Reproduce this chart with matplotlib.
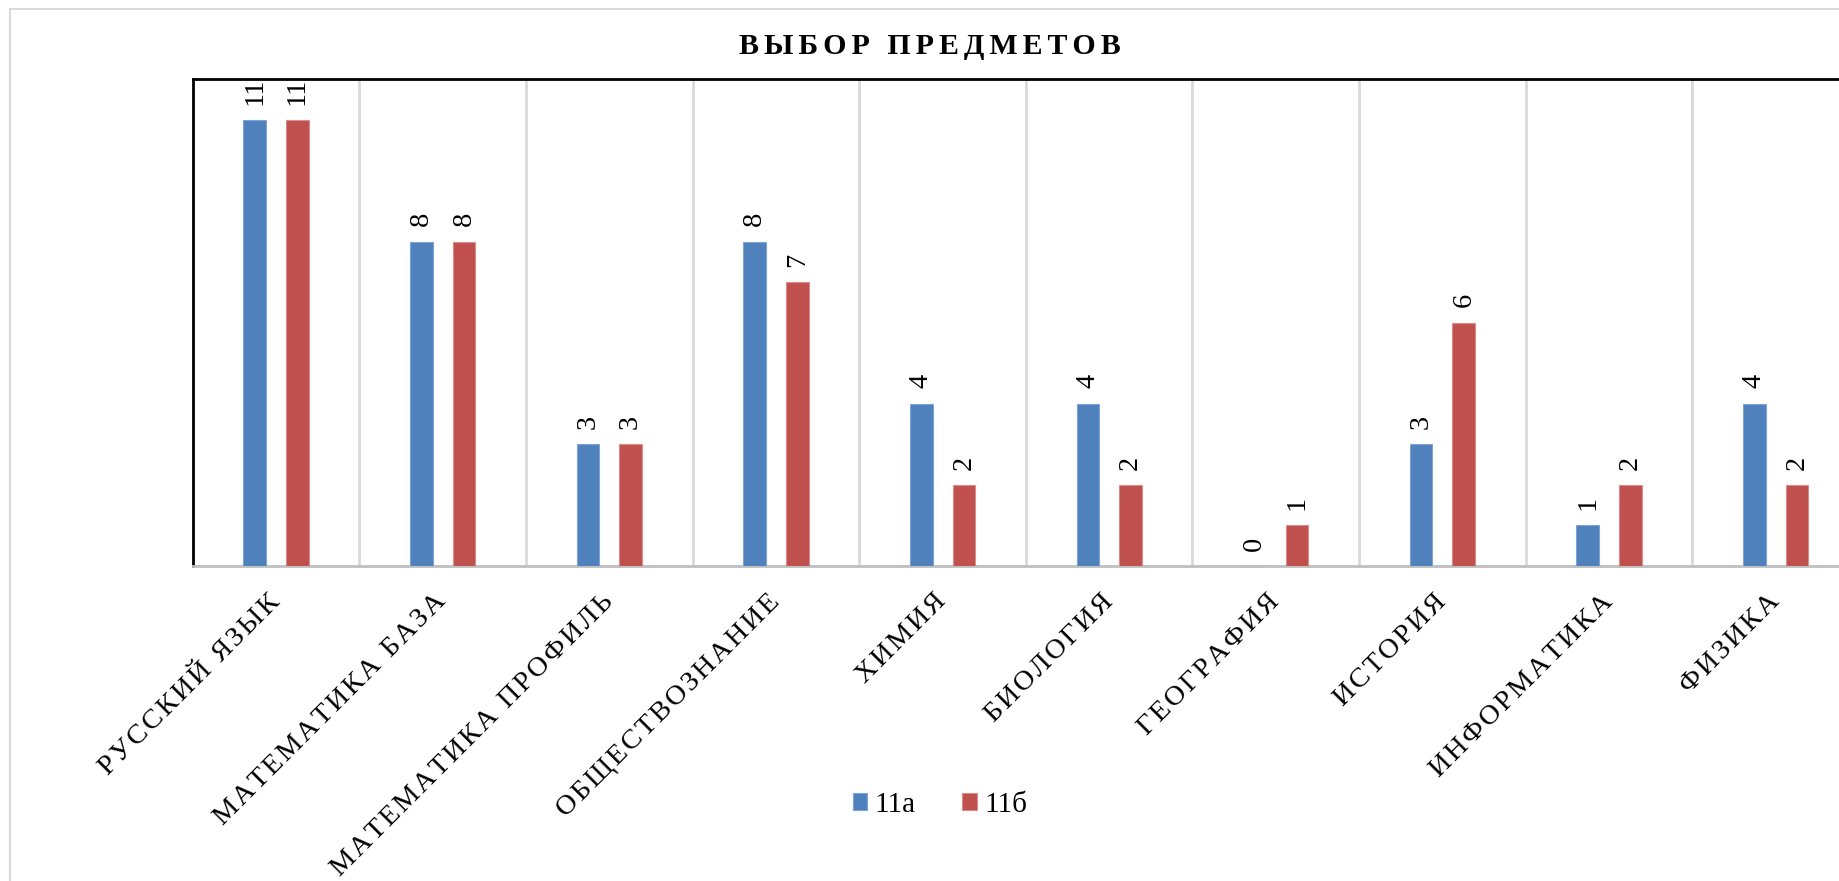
import numpy as np
import matplotlib.pyplot as plt
from matplotlib.patches import Rectangle

plt.rcParams['font.family'] = ['Liberation Serif', 'DejaVu Serif']

# data
subjects = ['РУССКИЙ ЯЗЫК', 'МАТЕМАТИКА БАЗА', 'МАТЕМАТИКА ПРОФИЛЬ',
            'ОБЩЕСТВОЗНАНИЕ', 'ХИМИЯ', 'БИОЛОГИЯ', 'ГЕОГРАФИЯ',
            'ИСТОРИЯ', 'ИНФОРМАТИКА', 'ФИЗИКА']
class_a = [11, 8, 3, 8, 4, 4, 0, 3, 1, 4]
class_b = [11, 8, 3, 7, 2, 2, 1, 6, 2, 2]
series_names = ['11а', '11б']
title = 'ВЫБОР ПРЕДМЕТОВ'

blue = '#4F81BD'
red = '#C0504D'

def spread(s, sep):
    # fake letter spacing
    return sep.join(s)

W, H = 1840, 881
fig = plt.figure(figsize=(W / 100, H / 100), dpi=100)

# outer chart frame (only left and top edges are visible in the crop)
fig.patches.append(Rectangle((10 / W, -0.1), 1.2, 1 - 9 / H + 0.1,
                             transform=fig.transFigure, fill=False,
                             edgecolor='#d9d9d9', linewidth=1.5))

left, right = 192.7, 1859.0
top, base = 79.3, 566.0
ax = fig.add_axes([left / W, 1 - base / H, (right - left) / W, (base - top) / H])

x = np.arange(len(subjects))
bw = 0.136
off = 0.128
bars_a = ax.bar(x - off, class_a, bw, color=blue, edgecolor='#7fa4d3', linewidth=0.8, zorder=3)
bars_b = ax.bar(x + off, class_b, bw, color=red, edgecolor='#d98c8a', linewidth=0.8, zorder=3)

for bars, vals in ((bars_a, class_a), (bars_b, class_b)):
    for r, v in zip(bars, vals):
        ax.annotate(str(v), (r.get_x() + r.get_width() / 2, v),
                    xytext=(0, 11), textcoords='offset points',
                    rotation=90, ha='center', va='bottom',
                    fontsize=20.5, annotation_clip=False, clip_on=False)

ax.set_xlim(-0.5, len(subjects) - 0.5)
ax.set_ylim(0, 12)
ax.set_yticks([])

ax.set_xticks(x)
ax.set_xticklabels([spread(s, '\u200a') for s in subjects], rotation=45,
                   ha='right', va='center', rotation_mode='anchor', fontsize=20.5)
ax.tick_params(axis='x', length=0, pad=23)
ax.set_xticks(x[1:] - 0.5, minor=True)
ax.tick_params(axis='x', which='minor', length=0)
ax.grid(axis='x', which='minor', color='#d9d9d9', linewidth=2, zorder=0)

ax.spines['left'].set_color('black')
ax.spines['left'].set_linewidth(2)
ax.spines['top'].set_color('black')
ax.spines['top'].set_linewidth(2)
ax.spines['bottom'].set_color('#bfbfbf')
ax.spines['bottom'].set_linewidth(2)
ax.spines['right'].set_visible(False)

fig.text(930 / W, 1 - 47 / H, spread(title, '\u200a\u200a'), ha='center', va='center',
         fontsize=21.5, fontweight='bold')

fig.legend([bars_a, bars_b], series_names, loc='center', ncol=2,
           bbox_to_anchor=(940 / W, 1 - 805 / H), frameon=False,
           fontsize=21, handlelength=0.5, handleheight=0.5,
           handletextpad=0.25, columnspacing=1.6)

fig.savefig('out.png', dpi=100)
